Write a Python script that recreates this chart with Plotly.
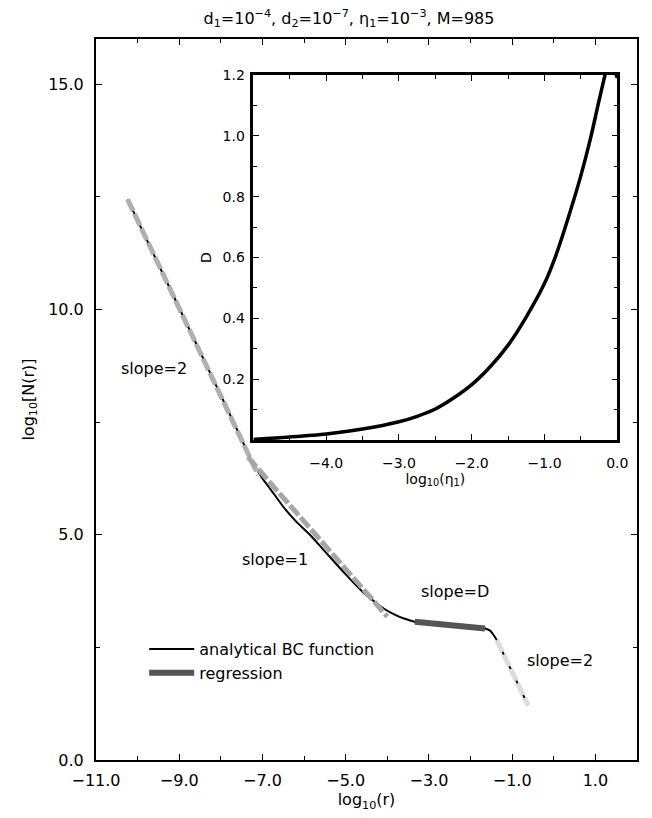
import plotly.graph_objects as go

# ---------------- data ----------------
# analytical BC function: log10(r) vs log10[N(r)]
bc_x = [-10.24, -9.5, -9.0, -8.5, -8.0, -7.6, -7.3, -7.0, -6.8, -6.5, -6.2, -5.86, -5.5, -5.0,
        -4.6, -4.29, -4.05, -3.81, -3.6, -3.34, -2.5, -1.65, -1.53, -1.45, -1.37, -1.0, -0.62]
bc_y = [12.44, 11.0, 10.03, 9.06, 8.09, 7.31, 6.72, 6.25, 6.0, 5.62, 5.30, 5.0, 4.63, 4.12,
        3.74, 3.50, 3.34, 3.22, 3.14, 3.07, 3.0, 2.92, 2.87, 2.78, 2.66, 1.95, 1.22]

# regression segments
reg1_x = [-10.24, -7.1]
reg1_y = [12.44, 6.32]
reg2_x = [-7.35, -4.0]
reg2_y = [6.72, 3.18]
reg3_x = [-3.34, -1.65]
reg3_y = [3.07, 2.92]
reg4_x = [-1.37, -0.62]
reg4_y = [2.66, 1.22]

# inset: D vs log10(eta1)
eta_x = [-5.0, -4.5, -4.0, -3.5, -3.0, -2.75, -2.5, -2.25, -2.0, -1.75, -1.5, -1.25, -1.0,
         -0.85, -0.67, -0.5, -0.37, -0.26, -0.17, -0.1, -0.04, 0.0]
eta_D = [0.002, 0.010, 0.020, 0.036, 0.060, 0.078, 0.102, 0.138, 0.182, 0.240, 0.312, 0.405,
         0.515, 0.603, 0.734, 0.87, 0.99, 1.107, 1.2, 1.28, 1.22, 1.19]

# ticks
x_major = [-11, -9, -7, -5, -3, -1, 1]
x_major_text = ["−11.0", "−9.0", "−7.0", "−5.0", "−3.0", "−1.0", "1.0"]
x_minor = [-10, -8, -6, -4, -2, 0, 2]
y_major = [0, 5, 10, 15]
y_major_text = ["0.0", "5.0", "10.0", "15.0"]
y_minor = [2.5, 7.5, 12.5]

ix_major = [-4, -3, -2, -1, 0]
ix_major_text = ["−4.0", "−3.0", "−2.0", "−1.0", "0.0"]
ix_minor = [-4.5, -3.5, -2.5, -1.5, -0.5]
iy_major = [0.2, 0.4, 0.6, 0.8, 1.0, 1.2]
iy_major_text = ["0.2", "0.4", "0.6", "0.8", "1.0", "1.2"]
iy_minor = [0.1, 0.3, 0.5, 0.7, 0.9, 1.1]

labels = [("slope=2", -9.61, 8.68), ("slope=1", -6.70, 4.44),
          ("slope=D", -2.37, 3.75), ("slope=2", 0.16, 2.2)]

FONT = "DejaVu Sans"

# page has an 8px body margin; plot area is placed at x 96..646, y 39..760 in the page
OFF = 8
PL, PR, PT, PB = 96, 646, 39, 760
PW, PH = PR - PL, PB - PT

fig = go.Figure()

fig.add_trace(go.Scatter(x=bc_x, y=bc_y, mode="lines", name="analytical BC function",
                         line=dict(color="black", width=2, shape="spline", smoothing=0.6),
                         xaxis="x", yaxis="y", showlegend=True))
fig.add_trace(go.Scatter(x=reg1_x, y=reg1_y, mode="lines", showlegend=False,
                         line=dict(color="#b0b0b0", width=5, dash="13px,3px")))
fig.add_trace(go.Scatter(x=reg2_x, y=reg2_y, mode="lines", showlegend=False,
                         line=dict(color="#a6a6a6", width=5, dash="13px,3px")))
fig.add_trace(go.Scatter(x=reg3_x, y=reg3_y, mode="lines", name="regression",
                         line=dict(color="#555555", width=6), showlegend=True))
fig.add_trace(go.Scatter(x=reg4_x, y=reg4_y, mode="lines", showlegend=False,
                         line=dict(color="#dcdcdc", width=5, dash="13px,3px")))

fig.add_trace(go.Scatter(x=eta_x, y=eta_D, mode="lines", showlegend=False,
                         line=dict(color="black", width=3.5, shape="spline", smoothing=0.8),
                         xaxis="x2", yaxis="y2"))

for txt, lx, ly in labels:
    fig.add_annotation(x=lx, y=ly, xref="x", yref="y", text=txt, showarrow=False,
                       font=dict(family=FONT, size=16, color="black"))

axis_common = dict(showline=True, linecolor="black", mirror="ticks", ticks="inside",
                   tickcolor="black", showgrid=False, zeroline=False,
                   tickfont=dict(family=FONT, size=16, color="black"))

W, H = 652, 818
fig.update_layout(
    width=W, height=H,
    margin=dict(l=PL - OFF, r=W + OFF - PR, t=PT - OFF, b=H + OFF - PB),
    paper_bgcolor="white", plot_bgcolor="white",
    title=dict(text="d<sub>1</sub>=10<sup>−4</sup>, d<sub>2</sub>=10<sup>−7</sup>, "
                    "η<sub>1</sub>=10<sup>−3</sup>, M=985",
               x=(349 - OFF) / W, xanchor="center", y=1 - (18 - OFF) / H, yanchor="middle",
               font=dict(family=FONT, size=16, color="black")),
    xaxis=dict(**axis_common, range=[-11, 2], linewidth=2, ticklen=6, tickwidth=1,
               tickvals=x_major, ticktext=x_major_text, ticklabelstandoff=5,
               minor=dict(tickvals=x_minor, ticks="inside", ticklen=4, tickcolor="black"),
               title=dict(text="log<sub>10</sub>(r)", standoff=4,
                          font=dict(family=FONT, size=16, color="black")),
               domain=[0, 1]),
    yaxis=dict(**axis_common, range=[0, 16], linewidth=2, ticklen=6, tickwidth=1,
               tickvals=y_major, ticktext=y_major_text, ticklabelstandoff=7,
               minor=dict(tickvals=y_minor, ticks="inside", ticklen=4, tickcolor="black"),
               title=dict(text="log<sub>10</sub>[N(r)]", standoff=10,
                          font=dict(family=FONT, size=16, color="black")),
               domain=[0, 1]),
    xaxis2=dict(showline=True, linecolor="black", mirror="ticks", ticks="inside",
                tickcolor="black", showgrid=False, zeroline=False, linewidth=2.5,
                ticklen=6, tickwidth=1, range=[-5, 0], anchor="y2",
                domain=[(256 - PL) / PW, (626 - PL) / PW],
                tickvals=ix_major, ticktext=ix_major_text, ticklabelstandoff=8,
                tickfont=dict(family=FONT, size=14, color="black"),
                minor=dict(tickvals=ix_minor, ticks="inside", ticklen=4, tickcolor="black"),
                title=dict(text="log<sub>10</sub>(η<sub>1</sub>)", standoff=1,
                           font=dict(family=FONT, size=14, color="black"))),
    yaxis2=dict(showline=True, linecolor="black", mirror="ticks", ticks="inside",
                tickcolor="black", showgrid=False, zeroline=False, linewidth=2.5,
                ticklen=6, tickwidth=1, range=[0, 1.2], anchor="x2",
                domain=[(PB - 440) / PH, (PB - 75) / PH],
                tickvals=iy_major, ticktext=iy_major_text, ticklabelstandoff=3,
                tickfont=dict(family=FONT, size=14, color="black"),
                minor=dict(tickvals=iy_minor, ticks="inside", ticklen=4, tickcolor="black"),
                title=dict(text="D", standoff=8,
                           font=dict(family=FONT, size=14, color="black"))),
    legend=dict(x=(145 - PL) / PW, y=(PB - 632) / PH, xanchor="left", yanchor="top",
                bgcolor="rgba(0,0,0,0)", borderwidth=0, itemwidth=45,
                font=dict(family=FONT, size=16, color="black"), tracegroupgap=0),
)

fig.write_html("out.html")
